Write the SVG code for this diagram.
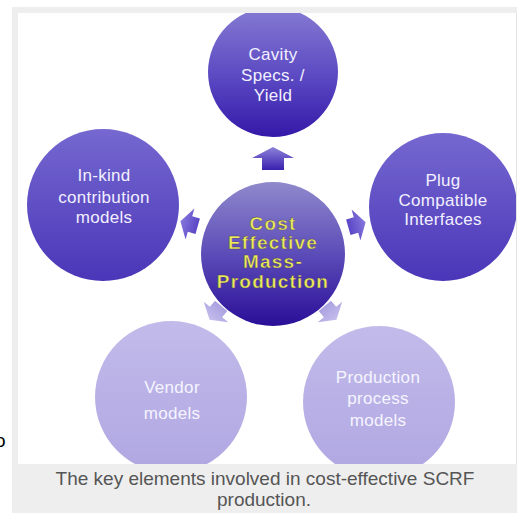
<svg xmlns="http://www.w3.org/2000/svg" width="517" height="513" viewBox="0 0 517 513">
<style>
.t{font-family:"Liberation Sans",Arial,sans-serif;font-size:17px;fill:#f2f0ff;text-anchor:middle;letter-spacing:0.3px}
.tl{font-family:"Liberation Sans",Arial,sans-serif;font-size:17px;fill:#f6f5ff;text-anchor:middle;letter-spacing:0.3px}
.c{font-family:"Liberation Sans",Arial,sans-serif;font-size:19px;font-weight:bold;fill:#ecec58;text-anchor:middle;letter-spacing:1.2px;stroke:#4a3a6a;stroke-width:0.4px}
.cap{font-family:"Liberation Sans",Arial,sans-serif;font-size:19px;fill:#555555;text-anchor:middle}
</style>
<defs>
<linearGradient id="gDark" x1="0" y1="0" x2="0" y2="1">
<stop offset="0" stop-color="#857bd2"/>
<stop offset="0.55" stop-color="#5a48c2"/>
<stop offset="1" stop-color="#3418a8"/>
</linearGradient>
<linearGradient id="gSide" x1="0" y1="0" x2="0" y2="1">
<stop offset="0" stop-color="#7568d0"/>
<stop offset="1" stop-color="#4a36b8"/>
</linearGradient>
<linearGradient id="gCenter" x1="0" y1="0" x2="0" y2="1">
<stop offset="0" stop-color="#8f89cc"/>
<stop offset="0.5" stop-color="#5c4cb8"/>
<stop offset="1" stop-color="#2a0e98"/>
</linearGradient>
<linearGradient id="gLight" x1="0" y1="0" x2="0" y2="1">
<stop offset="0" stop-color="#c2bbea"/>
<stop offset="1" stop-color="#b0a7e2"/>
</linearGradient>
<linearGradient id="gArrUp" x1="0" y1="0" x2="0" y2="1">
<stop offset="0" stop-color="#8c82d8"/>
<stop offset="1" stop-color="#3a20b0"/>
</linearGradient>
<linearGradient id="gArrSide" x1="0" y1="0" x2="0" y2="1">
<stop offset="0" stop-color="#8678dc"/>
<stop offset="1" stop-color="#5a46c6"/>
</linearGradient>
<linearGradient id="gArrLight" x1="0" y1="0" x2="0" y2="1">
<stop offset="0" stop-color="#c4bdec"/>
<stop offset="1" stop-color="#aaa1e0"/>
</linearGradient>
<path id="arrow" d="M0,-12 L21,-1 L11,-1 L11,11 L-11,11 L-11,-1 L-21,-1 Z"/>
<path id="arrowS" d="M0,-10 L16,0 L8,0 L8,8 L-8,8 L-8,0 L-16,0 Z"/>
<clipPath id="area"><rect x="18" y="13" width="498" height="451"/></clipPath>
</defs>
<rect x="12" y="7" width="505" height="506" fill="#eeeeee"/>
<rect x="18" y="13" width="498" height="451" fill="#ffffff"/>
<text x="-5" y="447" font-family="Liberation Sans, Arial, sans-serif" font-size="19" fill="#000000">o</text>
<g clip-path="url(#area)">
<g id="top">
<circle cx="273" cy="72" r="65" fill="url(#gDark)"/>
<text class="t" x="273" y="60">Cavity</text>
<text class="t" x="273" y="81">Specs. /</text>
<text class="t" x="273" y="101">Yield</text>
</g>
<g id="left">
<circle cx="103" cy="205" r="76" fill="url(#gSide)"/>
<text class="t" x="104" y="181">In-kind</text>
<text class="t" x="104" y="203">contribution</text>
<text class="t" x="104" y="223">models</text>
</g>
<g id="right">
<circle cx="443" cy="207" r="74" fill="url(#gSide)"/>
<text class="t" x="443" y="186">Plug</text>
<text class="t" x="443" y="206">Compatible</text>
<text class="t" x="443" y="225">Interfaces</text>
</g>
<g id="vendor">
<circle cx="171" cy="397" r="76" fill="url(#gLight)"/>
<text class="tl" x="172" y="393">Vendor</text>
<text class="tl" x="172" y="419">models</text>
</g>
<g id="process">
<circle cx="379" cy="402" r="76" fill="url(#gLight)"/>
<text class="tl" x="378" y="383">Production</text>
<text class="tl" x="378" y="404">process</text>
<text class="tl" x="378" y="426">models</text>
</g>
<g id="center">
<circle cx="273" cy="254" r="72" fill="url(#gCenter)"/>
<text class="c" x="273" y="230">Cost</text>
<text class="c" x="273" y="249">Effective</text>
<text class="c" x="273" y="268">Mass-</text>
<text class="c" x="273" y="288">Production</text>
</g>
<g id="connectors">
<use href="#arrow" transform="translate(273,159)" fill="url(#gArrUp)"/>
<use href="#arrowS" transform="translate(190,224) rotate(-74)" fill="url(#gArrSide)"/>
<use href="#arrowS" transform="translate(356,225) rotate(74)" fill="url(#gArrSide)"/>
<use href="#arrowS" transform="translate(216,312) rotate(-140)" fill="url(#gArrLight)"/>
<use href="#arrowS" transform="translate(330,312) rotate(140)" fill="url(#gArrLight)"/>
</g>
</g>
<line x1="516.5" y1="13" x2="516.5" y2="464" stroke="#e4e4e4" stroke-width="1"/>
<text class="cap" x="265" y="485">The key elements involved in cost-effective SCRF</text>
<text class="cap" x="264" y="506">production.</text>
</svg>
